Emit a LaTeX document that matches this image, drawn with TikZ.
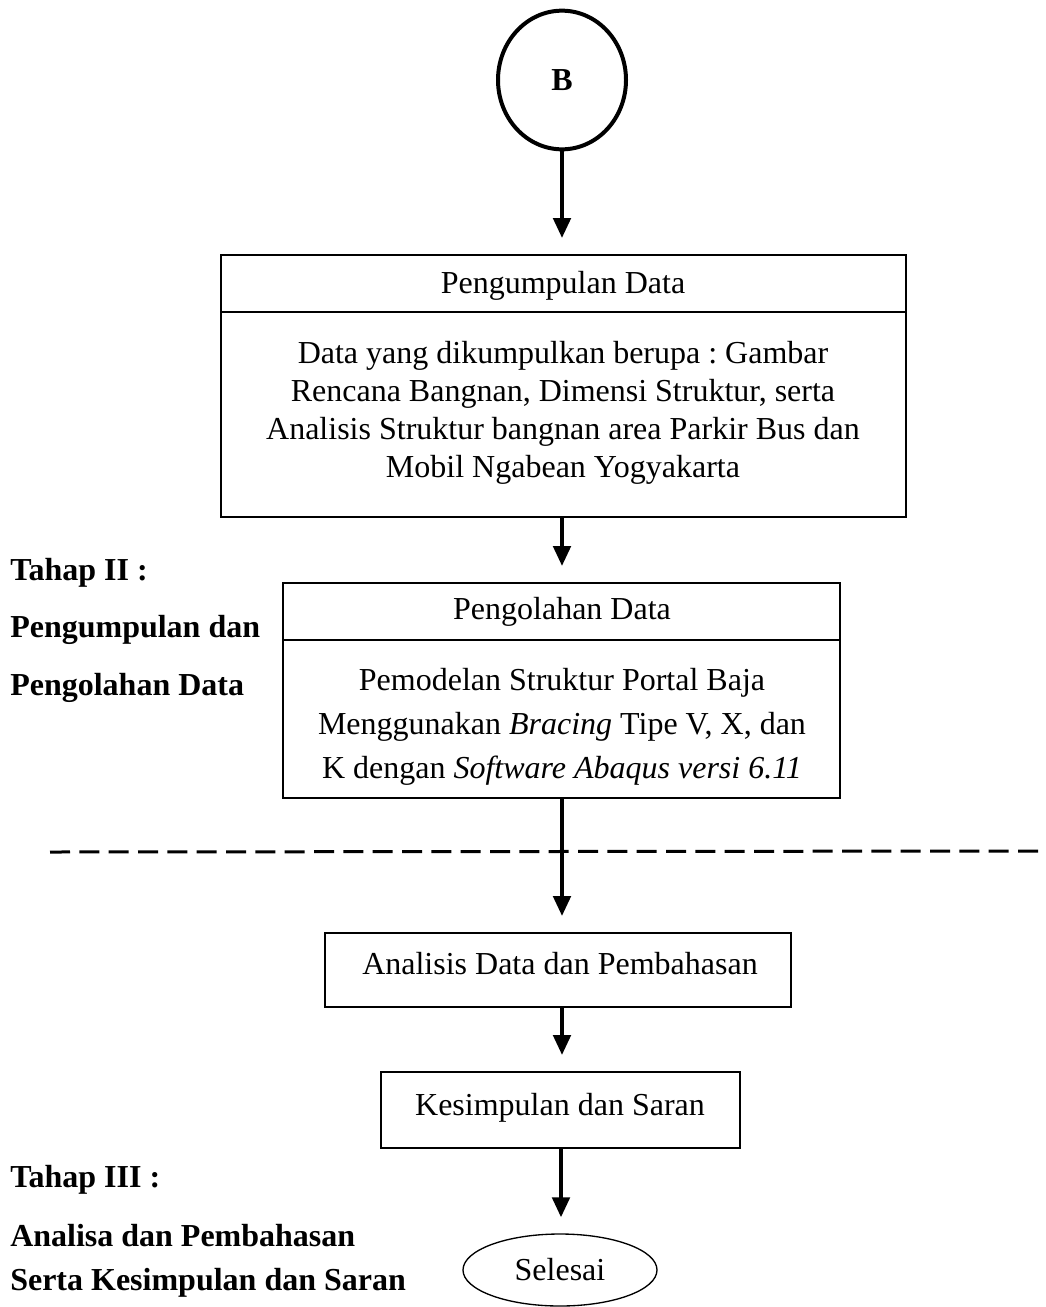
\documentclass[tikz,border=0pt]{standalone}
\usepackage{fontspec}
\setmainfont{Liberation Serif}
\usetikzlibrary{shapes.geometric,arrows.meta}
\frenchspacing
\tikzset{
  boxnode/.style={draw,line width=1.5pt,inner sep=0pt},
  txt/.style={font=\fontsize{24}{28.5}\selectfont,inner sep=0pt,align=center},
  lbl/.style={font=\fontsize{24}{28}\selectfont\bfseries,inner sep=0pt,anchor=west},
  arr/.style={line width=3pt,-{Triangle[length=15pt,width=13pt]},shorten >=12pt},
  divline/.style={line width=1.5pt}
}
\begin{document}
\begin{tikzpicture}[x=0.75pt,y=-0.75pt]
\useasboundingbox (0,0) rectangle (1046,1307);
% start circle
\node[ellipse,draw,line width=3pt,minimum width=96pt,minimum height=104pt,inner sep=0pt,font=\fontsize{24}{28}\selectfont\bfseries] (B) at (562,80) {B};
% box 1
\node[boxnode,minimum width=513.75pt,minimum height=196.5pt] (box1) at (563.5,386) {};
\draw[divline] (box1.west |- 0,312) -- (box1.east |- 0,312);
\node[txt] (t1) at (563,286) {Pengumpulan Data};
\node[txt,font=\fontsize{24}{28.5}\selectfont] (b1) at (563,413) {Data yang dikumpulkan berupa : Gambar\\Rencana Bangnan, Dimensi Struktur, serta\\Analisis Struktur bangnan area Parkir Bus dan\\Mobil Ngabean Yogyakarta};
% box 2
\node[boxnode,minimum width=417.75pt,minimum height=161.25pt] (box2) at (561.5,690.5) {};
\draw[divline] (box2.west |- 0,640) -- (box2.east |- 0,640);
\node[txt] (t2) at (562,612) {Pengolahan Data};
\node[txt,font=\fontsize{24}{33}\selectfont] (b2) at (562,727) {Pemodelan Struktur Portal Baja\\Menggunakan \textit{Bracing} Tipe V, X, dan\\K dengan \textit{Software Abaqus versi 6.11}};
% box 3
\node[boxnode,minimum width=349.5pt,minimum height=55.5pt,txt] (box3) at (558,970) {};
\node[txt] (t3) at (560,964) {Analisis Data dan Pembahasan};
% box 4
\node[boxnode,minimum width=269.25pt,minimum height=57pt] (box4) at (560.5,1110) {};
\node[txt] (t4) at (560,1108) {Kesimpulan dan Saran};
% end
\node[ellipse,draw,line width=1pt,minimum width=145.5pt,minimum height=54pt,inner sep=0pt,txt] (end) at (560,1270) {Selesai};
% arrows
\draw[arr] (B.south) -- (B.south |- box1.north);
\draw[arr] (box1.south -| 562,0) -- (box2.north -| 562,0);
\draw[arr] (box2.south -| 562,0) -- (box3.north -| 562,0);
\draw[arr] (box3.south -| 562,0) -- (box4.north -| 562,0);
\draw[arr] (box4.south -| 561,0) -- (end.north -| 561,0);
% dashed separator
\coordinate (dl) at (50,852);
\coordinate (dr) at (1046,851);
\draw[line width=2.25pt,dash pattern=on 15pt off 7pt] (dl) -- (dr);
% side labels
\node[lbl] (l1) at (10,573) {Tahap II :};
\node[lbl] (l2) at (10,630) {Pengumpulan dan};
\node[lbl] (l3) at (10,688) {Pengolahan Data};
\node[lbl] (l4) at (10,1180) {Tahap III :};
\node[lbl] (l5) at (10,1236) {Analisa dan Pembahasan};
\node[lbl] (l6) at (10,1283) {Serta Kesimpulan dan Saran};
\end{tikzpicture}
\end{document}
